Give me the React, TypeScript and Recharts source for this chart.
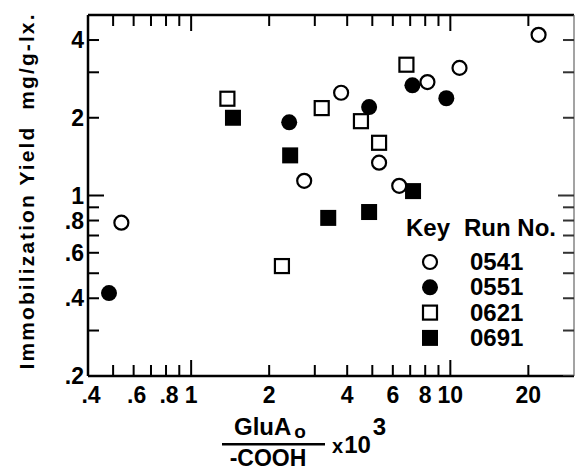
import { ScatterChart, Scatter, XAxis, YAxis } from 'recharts'

// values
const run0541X = [0.538, 2.73, 3.79, 5.31, 6.35, 8.16, 10.85, 21.9]
const run0541Y = [0.785, 1.14, 2.5, 1.34, 1.09, 2.75, 3.12, 4.19]
const run0551X = [0.482, 2.39, 4.86, 7.14, 9.65]
const run0551Y = [0.419, 1.92, 2.2, 2.67, 2.38]
const run0621X = [1.38, 2.24, 3.19, 4.52, 5.31, 6.77]
const run0621Y = [2.37, 0.533, 2.18, 1.94, 1.6, 3.21]
const run0691X = [1.45, 2.41, 3.38, 4.86, 7.18]
const run0691Y = [2.0, 1.43, 0.819, 0.863, 1.04]

const xTicks = [0.4, 0.5, 0.6, 0.7, 0.8, 0.9, 1, 2, 3, 4, 5, 6, 7, 8, 9, 10, 20]
const xTickLabels = ['.4', '', '.6', '', '.8', '', '1', '2', '', '4', '', '6', '', '8', '', '10', '20']
const yTicks = [0.2, 0.3, 0.4, 0.5, 0.6, 0.7, 0.8, 0.9, 1, 2, 3, 4]
const yTickLabels = ['.2', '', '.4', '', '.6', '', '.8', '', '1', '2', '', '4']

const runNames = ['0541', '0551', '0621', '0691']

const X_DOMAIN = [0.4, 30]
const Y_DOMAIN = [0.2, 5]

const FONT = '"Liberation Sans", Arial, Helvetica, sans-serif'

const toPoints = (xs: number[], ys: number[]) => xs.map((x, i) => ({ x, y: ys[i] }))

type Kind = 'openCircle' | 'circle' | 'openSquare' | 'square'
const kinds: Kind[] = ['openCircle', 'circle', 'openSquare', 'square']

const Marker = ({ cx, cy, kind }: { cx: number; cy: number; kind: Kind }) => {
  if (kind === 'openCircle')
    return <circle cx={cx} cy={cy} r={7} fill="#fff" stroke="#000" strokeWidth={2.2} />
  if (kind === 'circle') return <circle cx={cx} cy={cy} r={8} fill="#000" />
  if (kind === 'openSquare')
    return <rect x={cx - 7} y={cy - 7} width={14} height={14} fill="#fff" stroke="#000" strokeWidth={2.2} />
  return <rect x={cx - 8} y={cy - 8} width={16} height={16} fill="#000" />
}

const xLen = (v: number) => (v === 1 || v === 10 ? 16 : 11)
const yLen = (v: number) => (v === 1 ? 16 : 11)

// inward tick marks, placed on the frame through the chart's own scales
type Side = 'bottom' | 'top' | 'left' | 'right'
const frameTicks: { x: number; y: number; side: Side; len: number }[] = [
  ...xTicks.map((v) => ({ x: v, y: Y_DOMAIN[0], side: 'bottom' as Side, len: xLen(v) })),
  ...xTicks.map((v) => ({ x: v, y: Y_DOMAIN[1], side: 'top' as Side, len: xLen(v) })),
  ...yTicks.map((v) => ({ x: X_DOMAIN[0], y: v, side: 'left' as Side, len: yLen(v) })),
  ...yTicks.map((v) => ({ x: X_DOMAIN[1], y: v, side: 'right' as Side, len: yLen(v) })),
]

const TickMark = (p: any) => {
  const { cx, cy } = p
  const { side, len } = p.payload
  if (side === 'bottom') return <rect x={cx - 1} y={cy - len} width={2} height={len} fill="#000" />
  if (side === 'top') return <rect x={cx - 1} y={cy} width={2} height={len} fill="#000" />
  if (side === 'left') return <rect x={cx} y={cy - 1} width={len} height={2} fill="#000" />
  return <rect x={cx - len} y={cy - 1} width={len} height={2} fill="#333" />
}

const XTickLabel = (props: any) => {
  const { x, y, payload } = props
  const i = xTicks.indexOf(payload.value)
  const label = i >= 0 ? xTickLabels[i] : ''
  if (!label) return <g />
  return (
    <text
      x={x + (label.startsWith('.') ? 3 : 0)}
      y={y + 27}
      textAnchor="middle"
      fontFamily={FONT}
      fontWeight={700}
      fontSize={23}
      fill="#000"
    >
      {label}
    </text>
  )
}

const YTickLabel = (props: any) => {
  const { x, y, payload } = props
  const i = yTicks.indexOf(payload.value)
  const label = i >= 0 ? yTickLabels[i] : ''
  if (!label) return <g />
  return (
    <text x={x - 4} y={y + 8} textAnchor="end" fontFamily={FONT} fontWeight={700} fontSize={23} fill="#000">
      {label}
    </text>
  )
}

export default function App() {
  const series = [
    toPoints(run0541X, run0541Y),
    toPoints(run0551X, run0551Y),
    toPoints(run0621X, run0621Y),
    toPoints(run0691X, run0691Y),
  ]

  return (
    <div style={{ position: 'absolute', left: 0, top: 0, width: 575, height: 471, background: '#fff' }}>
      <svg
        width={575}
        height={471}
        style={{ position: 'absolute', left: 0, top: 0, zIndex: 0 }}
        fontFamily={FONT}
        fontWeight={700}
        fill="#000"
      >
        {/* y axis title */}
        <text
          transform="rotate(-90)"
          x={-192}
          y={34}
          textAnchor="middle"
          fontSize={21}
          textLength={355}
          lengthAdjust="spacing"
        >
          {'Immobilization Yield\u00a0\u00a0mg/g-lx.'}
        </text>

        {/* x axis title */}
        <text x={234} y={435} fontSize={24}>
          GluA
          <tspan fontSize={19} dx={3} dy={3}>o</tspan>
        </text>
        <rect x={222} y={443} width={103} height={2.5} fill="#000" />
        <text x={268} y={466} fontSize={23} textAnchor="middle">-COOH</text>
        <text x={332} y={453} fontSize={20}>
          x
          <tspan dx={1} fontSize={24}>10</tspan>
          <tspan dx={2} dy={-18} fontSize={24}>3</tspan>
        </text>

        {/* key */}
        <text x={406} y={236} fontSize={24}>Key</text>
        <text x={464} y={236} fontSize={24}>Run No.</text>
        {runNames.map((name, i) => {
          const cy = 262 + i * 25.3
          return (
            <g key={name}>
              <Marker cx={430} cy={cy} kind={kinds[i]} />
              <text x={470} y={cy + 8} fontSize={24}>{name}</text>
            </g>
          )
        })}
      </svg>

      <div style={{ position: 'absolute', left: 0, top: 0, zIndex: 1 }}>
        <ScatterChart width={575} height={471} margin={{ top: 14, right: 0, bottom: 94, left: 87 }}>
          <XAxis
            xAxisId="bottom"
            type="number"
            dataKey="x"
            scale="log"
            domain={X_DOMAIN}
            allowDataOverflow
            ticks={xTicks}
            interval={0}
            height={1}
            tickSize={0}
            tickMargin={0}
            tickLine={false}
            axisLine={{ stroke: '#000', strokeWidth: 2.5 }}
            tick={<XTickLabel />}
          />
          <XAxis
            xAxisId="top"
            orientation="top"
            type="number"
            dataKey="x"
            scale="log"
            domain={X_DOMAIN}
            allowDataOverflow
            ticks={xTicks}
            interval={0}
            height={1}
            tickLine={false}
            tick={false}
            axisLine={{ stroke: '#000', strokeWidth: 2.5 }}
          />
          <YAxis
            yAxisId="left"
            type="number"
            dataKey="y"
            scale="log"
            domain={Y_DOMAIN}
            allowDataOverflow
            ticks={yTicks}
            interval={0}
            width={1}
            tickSize={0}
            tickMargin={0}
            tickLine={false}
            axisLine={{ stroke: '#000', strokeWidth: 2.5 }}
            tick={<YTickLabel />}
          />
          <YAxis
            yAxisId="right"
            orientation="right"
            type="number"
            dataKey="y"
            scale="log"
            domain={Y_DOMAIN}
            allowDataOverflow
            ticks={yTicks}
            interval={0}
            width={1}
            tickLine={false}
            tick={false}
            axisLine={{ stroke: '#666', strokeWidth: 1.2 }}
          />
          <Scatter
            name="ticks"
            data={frameTicks}
            xAxisId="bottom"
            yAxisId="left"
            isAnimationActive={false}
            shape={(p: any) => <TickMark {...p} />}
          />
          {series.map((pts, i) => (
            <Scatter
              key={runNames[i]}
              name={runNames[i]}
              data={pts}
              xAxisId="bottom"
              yAxisId="left"
              isAnimationActive={false}
              shape={(p: any) => <Marker cx={p.cx} cy={p.cy} kind={kinds[i]} />}
            />
          ))}
        </ScatterChart>
      </div>
    </div>
  )
}
